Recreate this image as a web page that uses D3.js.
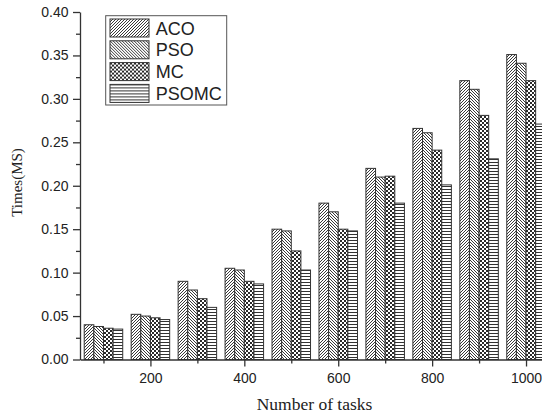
<!DOCTYPE html>
<html>
<head>
<meta charset="utf-8">
<script src="https://cdn.jsdelivr.net/npm/d3@7"></script>
<style>
  html, body { margin: 0; padding: 0; background: #fff; overflow: hidden; }
  svg { display: block; }
  .axis text { font-family: "Liberation Sans", Arial, sans-serif; font-size: 14px; fill: #222; }
  .axis path, .axis line { stroke: #333; stroke-width: 1.3; }
</style>
</head>
<body>
<div id="chart"></div>
<script>
// Data
const tasks = [100, 200, 300, 400, 500, 600, 700, 800, 900, 1000];
const aco   = [0.040, 0.052, 0.090, 0.105, 0.150, 0.180, 0.220, 0.266, 0.321, 0.351];
const pso   = [0.038, 0.050, 0.080, 0.103, 0.148, 0.170, 0.210, 0.261, 0.311, 0.341];
const mc    = [0.036, 0.048, 0.070, 0.090, 0.125, 0.150, 0.211, 0.241, 0.281, 0.321];
const psomc = [0.035, 0.046, 0.060, 0.087, 0.103, 0.148, 0.180, 0.201, 0.231, 0.271];
const seriesNames = ["ACO", "PSO", "MC", "PSOMC"];
const xMajorTicks = [200, 400, 600, 800, 1000];
const xMinorTicks = [100, 300, 500, 700, 900];
const yMajorTicks = [0, 0.05, 0.1, 0.15, 0.2, 0.25, 0.3, 0.35, 0.4];
const yMinorTicks = [0.025, 0.075, 0.125, 0.175, 0.225, 0.275, 0.325, 0.375];

const series = [aco, pso, mc, psomc].map((vals, i) => ({
  name: seriesNames[i],
  values: vals.map((v, j) => ({ task: tasks[j], value: v }))
}));

const width = 542, height = 419;

const svg = d3.create("svg")
  .attr("width", width)
  .attr("height", height)
  .attr("viewBox", [0, 0, width, height]);

// Fill patterns (black on white)
const defs = svg.append("defs");
const patternIds = ["p-aco", "p-pso", "p-mc", "p-psomc"];

function addPattern(id, size, draw) {
  const p = defs.append("pattern")
    .attr("id", id)
    .attr("patternUnits", "userSpaceOnUse")
    .attr("width", size)
    .attr("height", size);
  p.append("rect").attr("width", size).attr("height", size).attr("fill", "#fff");
  draw(p, size);
}
// forward diagonal
addPattern("p-aco", 3, (p, s) => p.append("path")
  .attr("d", `M0,${s} L${s},0 M${-s / 2},${s / 2} L${s / 2},${-s / 2} M${s / 2},${s * 1.5} L${s * 1.5},${s / 2}`)
  .attr("stroke", "#222").attr("stroke-width", 0.9));
// back diagonal
addPattern("p-pso", 3, (p, s) => p.append("path")
  .attr("d", `M0,0 L${s},${s} M${-s / 2},${s / 2} L${s / 2},${s * 1.5} M${s / 2},${-s / 2} L${s * 1.5},${s / 2}`)
  .attr("stroke", "#222").attr("stroke-width", 0.9));
// checkerboard
addPattern("p-mc", 4, (p, s) => p.append("path")
  .attr("d", "M0,0 h2 v2 h-2 Z M2,2 h2 v2 h-2 Z")
  .attr("fill", "#2a2a2a")
  .attr("shape-rendering", "crispEdges"));
// horizontal
addPattern("p-psomc", 3, (p, s) => p.append("path")
  .attr("d", `M0,0.5 L${s},0.5`)
  .attr("stroke", "#333").attr("stroke-width", 1)
  .attr("shape-rendering", "crispEdges"));

// Scales
const x = d3.scaleLinear().domain([50, 1050]).range([80, 549.5]);
const y = d3.scaleLinear().domain([0, 0.4]).range([359.5, 12]);

const groupW = (x(150) - x(50)) * 0.82;
const barW = groupW / seriesNames.length;

// Bars
svg.append("g")
  .selectAll("g")
  .data(series)
  .join("g")
  .attr("fill", (d, i) => `url(#${patternIds[i]})`)
  .each(function (s, i) {
    d3.select(this)
      .selectAll("rect")
      .data(s.values)
      .join("rect")
      .attr("x", (d) => x(d.task) - groupW / 2 + i * barW)
      .attr("y", (d) => y(d.value))
      .attr("width", barW)
      .attr("height", (d) => y(0) - y(d.value))
      .attr("stroke", "#333")
      .attr("stroke-width", 1);
  });

// Y axis
svg.append("g")
  .attr("class", "axis")
  .attr("transform", `translate(${x(50)},0)`)
  .call(d3.axisLeft(y).tickValues(yMajorTicks).tickFormat(d3.format(".2f"))
    .tickSize(7).tickPadding(4.5).tickSizeOuter(0));

svg.append("g")
  .attr("class", "axis")
  .attr("transform", `translate(${x(50)},0)`)
  .call(d3.axisLeft(y).tickValues(yMinorTicks).tickFormat("").tickSize(4).tickSizeOuter(0))
  .call((g) => g.select(".domain").remove());

// X axis
svg.append("g")
  .attr("class", "axis")
  .attr("transform", `translate(0,${y(0)})`)
  .call(d3.axisBottom(x).tickValues(xMajorTicks).tickFormat(d3.format("d"))
    .tickSize(7).tickPadding(7).tickSizeOuter(0));

svg.append("g")
  .attr("class", "axis")
  .attr("transform", `translate(0,${y(0)})`)
  .call(d3.axisBottom(x).tickValues(xMinorTicks).tickFormat("").tickSize(4).tickSizeOuter(0))
  .call((g) => g.select(".domain").remove());

// Axis titles
svg.append("text")
  .attr("x", 314.5)
  .attr("y", 410)
  .attr("text-anchor", "middle")
  .attr("font-family", "'Liberation Serif', 'Times New Roman', serif")
  .attr("font-size", 17.5)
  .attr("fill", "#222")
  .text("Number of tasks");

svg.append("text")
  .attr("transform", "translate(21.5,182.5) rotate(-90)")
  .attr("text-anchor", "middle")
  .attr("font-family", "'Liberation Serif', 'Times New Roman', serif")
  .attr("font-size", 15)
  .attr("fill", "#222")
  .text("Times(MS)");

// Legend
const legend = svg.append("g");
legend.append("rect")
  .attr("x", 105.7).attr("y", 15.7)
  .attr("width", 121).attr("height", 89.3)
  .attr("fill", "#fff")
  .attr("stroke", "#555")
  .attr("stroke-width", 1);

const rows = legend.selectAll("g.row")
  .data(seriesNames)
  .join("g")
  .attr("class", "row")
  .attr("transform", (d, i) => `translate(110,${19 + i * 21.8})`);

rows.append("rect")
  .attr("width", 39)
  .attr("height", 18)
  .attr("fill", (d, i) => `url(#${patternIds[i]})`)
  .attr("stroke", "#333")
  .attr("stroke-width", 1);

rows.append("text")
  .attr("x", 45.7)
  .attr("y", 15.5)
  .attr("font-family", "'Liberation Sans', Arial, sans-serif")
  .attr("font-size", 18)
  .attr("fill", "#222")
  .text((d) => d);

document.getElementById("chart").appendChild(svg.node());
</script>
</body>
</html>
